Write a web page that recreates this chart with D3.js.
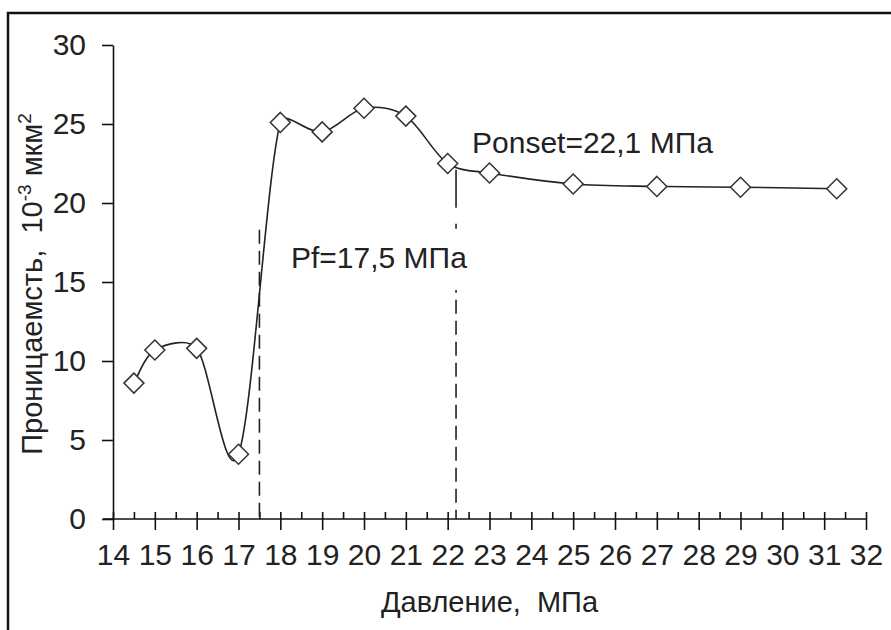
<!DOCTYPE html>
<meta charset="utf-8">
<style>
    body { margin: 0; background: #fff; }
    text { font-family: "Liberation Sans", Arial, sans-serif; fill: #222; white-space: pre; }
    .axis path, .axis line { stroke: #111; stroke-width: 1.6px; }
    .axis text { font-size: 30px; fill: #222; }
</style>
<body>
<script src="https://cdn.jsdelivr.net/npm/d3@7"></script>
<script>

// values
var pressure = [14.5, 15, 16, 17, 18, 19, 20, 21, 22, 23, 25, 27, 29, 31.3];
var permeability = [8.6, 10.7, 10.8, 4.1, 25.1, 24.5, 26.0, 25.5, 22.5, 21.9, 21.2, 21.05, 21.0, 20.9];
var xTicks = d3.range(14, 33, 1);
var yTicks = [0, 5, 10, 15, 20, 25, 30];
var markers = [{x: 17.5, top: 18.3, label: "Pf=17,5 МПа"}, {x: 22.2, top: 22.1, label: "Ponset=22,1 МПа"}];

var width = 891, height = 630;
var margin = {top: 45, right: 25, bottom: 111, left: 113};

var svg = d3.select("body").append("svg")
    .attr("width", width)
    .attr("height", height);

// the frame (only top and left edges are inside the picture)
svg.append("rect")
    .attr("x", 8).attr("y", 13)
    .attr("width", 900).attr("height", 700)
    .attr("fill", "none")
    .attr("stroke", "#111")
    .attr("stroke-width", 2.5);

var x = d3.scaleLinear().domain([14, 32]).range([margin.left, 866]);
var y = d3.scaleLinear().domain([0, 30]).range([519, margin.top]);

var g = svg.append("g");

// x axis: minor ticks inside, major ticks crossing
g.append("g")
    .attr("class", "axis")
    .attr("transform", "translate(0," + y(0) + ")")
    .call(d3.axisBottom(x).tickValues(d3.range(14.5, 32, 1)).tickSize(-7).tickFormat(""))
    .call(function(a) { a.select(".domain").remove(); });

var xAxis = g.append("g")
    .attr("class", "axis")
    .attr("transform", "translate(0," + y(0) + ")")
    .call(d3.axisBottom(x).tickValues(xTicks).tickSizeInner(11).tickSizeOuter(0).tickPadding(14).tickFormat(d3.format("d")));
xAxis.selectAll(".tick line").attr("y1", -7);
xAxis.select(".domain").attr("d", "M" + (x(14) - 10) + ",0H" + x(32));

var yAxis = g.append("g")
    .attr("class", "axis")
    .attr("transform", "translate(" + x(14) + ",0)")
    .call(d3.axisLeft(y).tickValues(yTicks).tickSizeInner(11).tickSizeOuter(0).tickPadding(16));

// dashed guide lines
g.selectAll(".guide")
    .data(markers)
    .enter().append("line")
    .attr("class", "guide")
    .attr("x1", function(d) { return x(d.x); })
    .attr("x2", function(d) { return x(d.x); })
    .attr("y1", function(d) { return y(d.top); })
    .attr("y2", y(0))
    .attr("stroke", "#222")
    .attr("stroke-width", 1.6)
    .attr("stroke-dasharray", function(d, i) { return i == 1 ? "38,16,5,8,14,7,14,7,14,7,14,7,14,7,14,7,14,7,14,7,14,7,14,7,14,7,14,7,14,7,14,7,14,7,14,7" : "14,7"; });

// Excel-like smoothing: Catmull-Rom arms, capped on short segments
function excelSmooth(context) {
    var pts;
    return {
        areaStart: function() {}, areaEnd: function() {},
        lineStart: function() { pts = []; },
        point: function(px, py) { pts.push([px, py]); },
        lineEnd: function() {
            var n = pts.length;
            if (!n) return;
            context.moveTo(pts[0][0], pts[0][1]);
            function seg(a, b) { return Math.hypot(b[0] - a[0], b[1] - a[1]); }
            function arm(i, side) {
                var p0 = pts[Math.max(i - 1, 0)], p2 = pts[Math.min(i + 1, n - 1)];
                var dx = p2[0] - p0[0], dy = p2[1] - p0[1];
                var len = Math.hypot(dx, dy) || 1;
                var other = side > 0 ? pts[i + 1] : pts[i - 1];
                var a = Math.min(len / 6, seg(pts[i], other) / 3);
                return [pts[i][0] + side * dx / len * a, pts[i][1] + side * dy / len * a];
            }
            for (var i = 0; i < n - 1; i++) {
                var c1 = arm(i, 1), c2 = arm(i + 1, -1);
                context.bezierCurveTo(c1[0], c1[1], c2[0], c2[1], pts[i + 1][0], pts[i + 1][1]);
            }
        }
    };
}

var line = d3.line()
    .x(function(d, i) { return x(pressure[i]); })
    .y(function(d) { return y(d); })
    .curve(excelSmooth);

g.append("path")
    .datum(permeability)
    .attr("d", line)
    .attr("fill", "none")
    .attr("stroke", "#222")
    .attr("stroke-width", 1.6);

g.selectAll(".pt")
    .data(permeability)
    .enter().append("path")
    .attr("class", "pt")
    .attr("d", "M0,-10L10,0L0,10L-10,0Z")
    .attr("transform", function(d, i) { return "translate(" + x(pressure[i]) + "," + y(d) + ")"; })
    .attr("fill", "#fff")
    .attr("stroke", "#333")
    .attr("stroke-width", 1.5);

// annotation labels
var labelPos = [{lx: 291, ly: 268}, {lx: 472, ly: 153}];
var lab = g.selectAll(".lab")
    .data(markers)
    .enter().append("g")
    .attr("class", "lab");
lab.append("rect")
    .attr("x", function(d, i) { return labelPos[i].lx - 2; })
    .attr("y", function(d, i) { return labelPos[i].ly - 36; })
    .attr("width", function(d, i) { return i == 0 ? 184 : 0; })
    .attr("height", 58)
    .attr("fill", "#fff");
lab.append("text")
    .attr("x", function(d, i) { return labelPos[i].lx; })
    .attr("y", function(d, i) { return labelPos[i].ly; })
    .style("font-size", "30px")
    .text(function(d) { return d.label; });

// axis titles
svg.append("text")
    .attr("x", (x(14) + x(32)) / 2)
    .attr("y", 612)
    .attr("text-anchor", "middle")
    .style("font-size", "29px")
    .text("Давление,  МПа");

var yt = svg.append("text")
    .attr("transform", "translate(42," + 284 + ")rotate(-90)")
    .attr("text-anchor", "middle")
    .style("font-size", "29px");
yt.append("tspan").text("Проницаемсть,  10");
yt.append("tspan").attr("dy", -11).style("font-size", "19px").text("-3");
yt.append("tspan").attr("dy", 11).text(" мкм");
yt.append("tspan").attr("dy", -11).style("font-size", "19px").text("2");

</script>
</body>
